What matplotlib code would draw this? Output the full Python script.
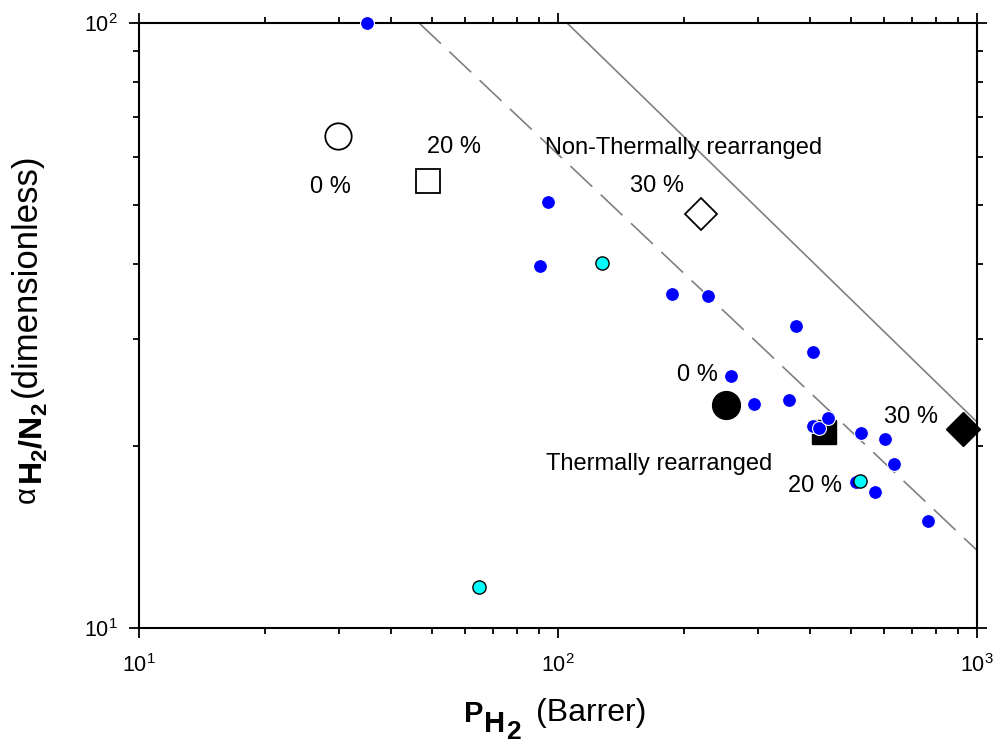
import matplotlib
matplotlib.use("Agg")
import matplotlib.pyplot as plt
from matplotlib.ticker import LogLocator, NullFormatter

plt.rcParams['font.family'] = ['Liberation Sans', 'DejaVu Sans']
plt.rcParams['mathtext.fontset'] = 'custom'
plt.rcParams['mathtext.rm'] = 'Liberation Sans'
plt.rcParams['mathtext.it'] = 'Liberation Sans:italic'
plt.rcParams['mathtext.bf'] = 'Liberation Sans:bold'

# ---- data ----
# literature polymers (blue)
blue_p = [35.0, 94.6, 90.6, 187, 228, 370, 406, 259, 294, 356, 529, 603, 634, 514, 571, 764]
blue_a = [100.0, 50.6, 39.6, 35.7, 35.4, 31.6, 28.6, 26.1, 23.5, 23.8, 21.0, 20.5, 18.7, 17.4, 16.8, 15.0]
# white-edged cluster (drawn above black square)
clus_p = [406, 420, 441]
clus_a = [21.6, 21.4, 22.2]
# cyan points
cyan_p = [127.4, 526, 64.7]
cyan_a = [40.1, 17.5, 11.7]

# this work: non-TR (open) and TR (filled): 0 %, 20 %, 30 %
nontr_p = [29.9, 49.0, 219]
nontr_a = [65.0, 54.8, 48.3]
tr_p = [252, 431, 926]
tr_a = [23.4, 21.1, 21.3]
loading_labels = ['0 %', '20 %', '30 %']

# Robeson upper bounds (end points)
rob1991_p = [46.6, 1000]
rob1991_a = [100, 13.44]
rob2008_p = [105.1, 1000]
rob2008_a = [100, 21.9]

W, H = 998, 746
fig = plt.figure(figsize=(W / 100, H / 100), dpi=100)
L, R, T, B = 139, 977, 23, 628
ax = fig.add_axes([L / W, 1 - B / H, (R - L) / W, (B - T) / H])
ax.set_xscale('log')
ax.set_yscale('log')
ax.set_xlim(10, 1000)
ax.set_ylim(10, 100)


def dx(px):
    return 10 ** (1 + 2 * (px - L) / (R - L))


def dy(py):
    return 10 ** (2 - (py - T) / (B - T))


def fx(px):
    return px / W


def fy(py):
    return 1 - py / H


ax.plot(rob1991_p, rob1991_a, color='#808080', lw=1.2, dashes=(18, 7), zorder=2)
ax.plot(rob2008_p, rob2008_a, color='#808080', lw=1.2, zorder=2)

ax.plot(blue_p, blue_a, 'o', ms=10, mfc='#0000ff', mec='white', mew=0.8, zorder=3, clip_on=False)
ax.plot(cyan_p[:1] + cyan_p[2:], cyan_a[:1] + cyan_a[2:], 'o', ms=9.5, mfc='#00ffff', mec='black', mew=1.0, zorder=4)

# this work, open markers
ax.plot([nontr_p[0]], [nontr_a[0]], 'o', ms=19, mfc='white', mec='black', mew=1.3, zorder=5)
ax.plot([nontr_p[1]], [nontr_a[1]], 's', ms=17, mfc='white', mec='black', mew=1.3, zorder=5)
ax.plot([nontr_p[2]], [nontr_a[2]], 'D', ms=16, mfc='white', mec='black', mew=1.3, zorder=5)
# filled markers
ax.plot([tr_p[0]], [tr_a[0]], 'o', ms=20, mfc='black', mec='black', zorder=5)
ax.plot([tr_p[1]], [tr_a[1]], 's', ms=17, mfc='black', mec='black', zorder=5)
ax.plot([tr_p[2]], [tr_a[2]], 'D', ms=17, mfc='black', mec='black', zorder=5, clip_on=False)

ax.plot(clus_p, clus_a, 'o', ms=10, mfc='#0000ff', mec='white', mew=0.8, zorder=6)
ax.plot(cyan_p[1:2], cyan_a[1:2], 'o', ms=9.5, mfc='#00ffff', mec='black', mew=1.0, zorder=7)

fs = 17
kw = dict(fontsize=fs, va='baseline')
ax.text(dx(330), dy(193), loading_labels[0], ha='center', **kw)
ax.text(dx(454), dy(153), loading_labels[1], ha='center', **kw)
ax.text(dx(657), dy(192), loading_labels[2], ha='center', **kw)
ax.text(dx(545), dy(154), 'Non-Thermally rearranged', ha='left', **kw)
ax.text(dx(697), dy(381), loading_labels[0], ha='center', **kw)
ax.text(dx(815), dy(492), loading_labels[1], ha='center', **kw)
ax.text(dx(911), dy(423), loading_labels[2], ha='center', **kw)
ax.text(dx(546), dy(470), 'Thermally rearranged', ha='left', **kw)

# ticks
for s in ax.spines.values():
    s.set_linewidth(1.5)
ax.xaxis.set_minor_locator(LogLocator(base=10, subs=range(2, 10)))
ax.yaxis.set_minor_locator(LogLocator(base=10, subs=range(2, 10)))
ax.xaxis.set_minor_formatter(NullFormatter())
ax.yaxis.set_minor_formatter(NullFormatter())
ax.tick_params(which='both', direction='out', top=True, right=True, width=1.3)
ax.tick_params(which='major', length=7)
ax.tick_params(which='minor', length=4.5)
ax.tick_params(axis='x', which='major', labelsize=15.5, pad=12)
ax.tick_params(axis='y', which='major', labelsize=15.5, pad=8)

# x axis label
fig.text(fx(464), fy(722), 'P', fontsize=21, fontweight='bold', ha='left', va='baseline')
fig.text(fx(484), fy(732), 'H', fontsize=21, fontweight='bold', ha='left', va='baseline')
fig.text(fx(506), fy(739), '2', fontsize=19, fontweight='bold', ha='left', va='baseline')
fig.text(fx(536), fy(721), '(Barrer)', fontsize=23, ha='left', va='baseline')

# y axis label
yk = dict(rotation=90, rotation_mode='anchor', ha='left', va='baseline')
fig.text(fx(35), fy(503), '\u03b1', fontsize=21, **yk)
fig.text(fx(43), fy(485), r'$\mathbf{H_2/N_2}$', fontsize=23, **yk)
fig.text(fx(36), fy(397), '(dimensionless)', fontsize=25, **yk)

fig.savefig('out.png', dpi=100)
